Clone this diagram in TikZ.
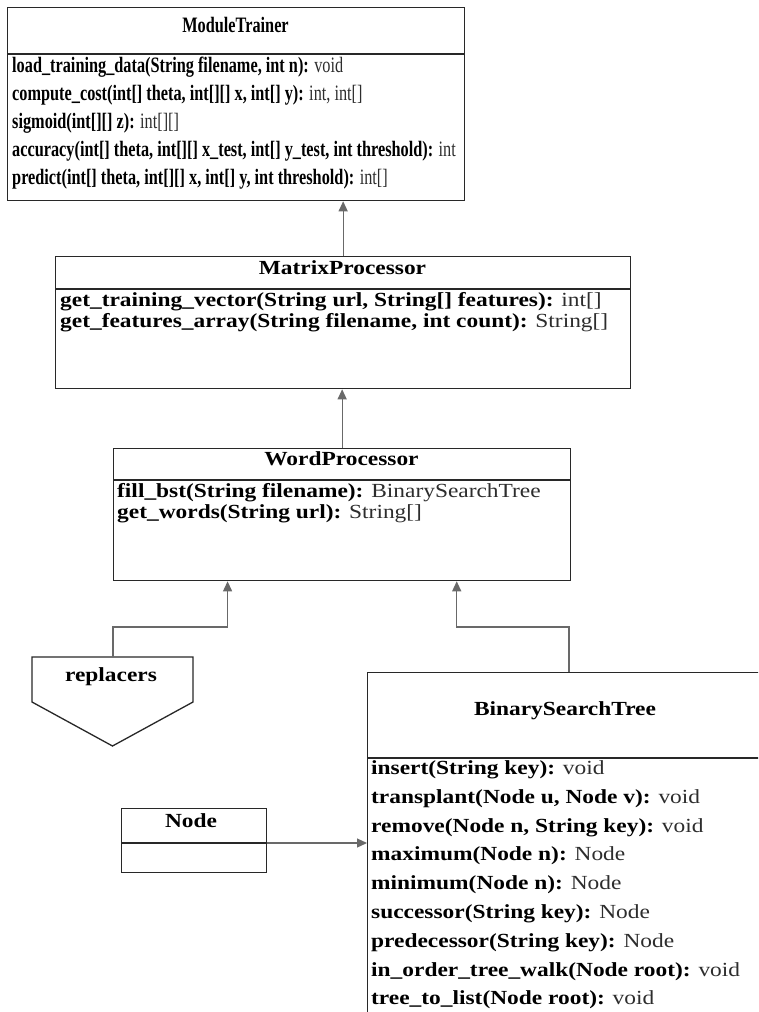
\documentclass[tikz,border=0pt]{standalone}
\usepackage{fontspec}
\setmainfont{Liberation Serif}
\newfontfamily\wideserif[FakeStretch=1.17]{Liberation Serif}
\newfontfamily\narrowserif[FakeStretch=0.74]{Liberation Serif}
\usetikzlibrary{arrows.meta,calc}

\definecolor{boxline}{RGB}{40,40,40}
\definecolor{connline}{RGB}{105,105,105}
\definecolor{rettext}{RGB}{45,45,45}

\begin{document}
\begin{tikzpicture}[x=1pt,y=-1pt,
  umlbox/.style={draw=boxline, line width=1.3pt, inner sep=0pt, anchor=north west, fill=white},
  sepline/.style={draw=boxline, line width=1.1pt},
  widefont/.style={font=\wideserif\fontsize{20}{22}\selectfont},
  narrowfont/.style={font=\narrowserif\fontsize{22}{24}\selectfont},
  rowtext/.style={anchor=west, inner sep=0pt, text height=0.7em, text depth=0.22em},
  titletext/.style={inner sep=0pt, text height=0.7em, text depth=0.22em},
  toprow/.style={rowtext, narrowfont},
  row/.style={rowtext, widefont},
  conn/.style={draw=connline, line width=1.2pt, -{Triangle[width=9pt,length=10pt,fill=connline]}}
]
\useasboundingbox (0,0) rectangle (758,1012);
\fill[white] (0,0) rectangle (758,1012);
\clip (0,0) rectangle (758,1012);

% ---- ModuleTrainer ----
\node[umlbox, minimum width=457pt, minimum height=193pt] (mt) at (7,7) {};
\draw[sepline] (mt.west |- 0,54) -- (mt.east |- 0,54);
\node[titletext, narrowfont] (mtT) at (235.5,30) {\textbf{ModuleTrainer}};
\node[toprow] (mt1) at (12,70)  {\textbf{load\_training\_data(String filename, int n):} \textcolor{rettext}{void}};
\node[toprow] (mt2) at (12,98)  {\textbf{compute\_cost(int[] theta, int[][] x, int[] y):} \textcolor{rettext}{int, int[]}};
\node[toprow] (mt3) at (12,126) {\textbf{sigmoid(int[][] z):} \textcolor{rettext}{int[][]}};
\node[toprow] (mt4) at (12,154) {\textbf{accuracy(int[] theta, int[][] x\_test, int[] y\_test, int threshold):} \textcolor{rettext}{int}};
\node[toprow] (mt5) at (12,182) {\textbf{predict(int[] theta, int[][] x, int[] y, int threshold):} \textcolor{rettext}{int[]}};

% ---- MatrixProcessor ----
\node[umlbox, minimum width=575pt, minimum height=132pt] (mp) at (55,256) {};
\draw[sepline] (mp.west |- 0,289) -- (mp.east |- 0,289);
\node[titletext, widefont] (mpT) at (342.5,272) {\textbf{MatrixProcessor}};
\node[row] (mp1) at (60,304) {\textbf{get\_training\_vector(String url, String[] features):} \textcolor{rettext}{int[]}};
\node[row] (mp2) at (60,325) {\textbf{get\_features\_array(String filename, int count):} \textcolor{rettext}{String[]}};

% ---- WordProcessor ----
\node[umlbox, minimum width=457pt, minimum height=132pt] (wp) at (113,448) {};
\draw[sepline] (wp.west |- 0,480) -- (wp.east |- 0,480);
\node[titletext, widefont] (wpT) at (341.5,463) {\textbf{WordProcessor}};
\node[row] (wp1) at (117,495) {\textbf{fill\_bst(String filename):} \textcolor{rettext}{BinarySearchTree}};
\node[row] (wp2) at (117,516) {\textbf{get\_words(String url):} \textcolor{rettext}{String[]}};

% ---- replacers ----
\draw[boxline, line width=1.3pt, fill=white]
  (32,657) -- (193,657) -- (193,702) -- (112.5,746) -- (32,702) -- cycle;
\node[titletext, widefont] (repl) at (111,679) {\textbf{replacers}};
\coordinate (replTop) at (113,657);

% ---- BinarySearchTree ----
\node[umlbox, minimum width=460pt, minimum height=420pt] (bst) at (367,672) {};
\draw[sepline] (bst.west |- 0,758) -- (bst.east |- 0,758);
\node[titletext, widefont] (bstT) at (565,713) {\textbf{BinarySearchTree}};
\node[row] (b1) at (371,772) {\textbf{insert(String key):} \textcolor{rettext}{void}};
\node[row] (b2) at (371,800.8) {\textbf{transplant(Node u, Node v):} \textcolor{rettext}{void}};
\node[row] (b3) at (371,829.6) {\textbf{remove(Node n, String key):} \textcolor{rettext}{void}};
\node[row] (b4) at (371,858.4) {\textbf{maximum(Node n):} \textcolor{rettext}{Node}};
\node[row] (b5) at (371,887.2) {\textbf{minimum(Node n):} \textcolor{rettext}{Node}};
\node[row] (b6) at (371,916) {\textbf{successor(String key):} \textcolor{rettext}{Node}};
\node[row] (b7) at (371,944.8) {\textbf{predecessor(String key):} \textcolor{rettext}{Node}};
\node[row] (b8) at (371,973.6) {\textbf{in\_order\_tree\_walk(Node root):} \textcolor{rettext}{void}};
\node[row] (b9) at (371,1002.4) {\textbf{tree\_to\_list(Node root):} \textcolor{rettext}{void}};
\coordinate (bstTop) at ($(bst.north west)+(202,0)$);

% ---- Node ----
\node[umlbox, minimum width=145pt, minimum height=64pt] (nd) at (121,808) {};
\draw[sepline] (nd.west |- 0,843) -- (nd.east |- 0,843);
\node[titletext, widefont] (ndT) at (191,825) {\textbf{Node}};
\coordinate (ndMid) at (nd.east |- 0,843);

% ---- connectors ----
\coordinate (wpL) at ($(wp.south west)!0.25!(wp.south east)$);
\coordinate (wpR) at ($(wp.south west)!0.75!(wp.south east)$);
\coordinate (bendL) at (replTop |- 0,627);
\coordinate (bendR) at (bstTop |- 0,627);

\draw[conn] (mp.north) -- (mp.north |- mt.south);
\draw[conn] (wp.north) -- (wp.north |- mp.south);
\draw[conn] (replTop) -- (bendL) -| (wpL);
\draw[conn] (bstTop) -- (bendR) -| (wpR);
\draw[conn] (ndMid) -- (ndMid -| bst.west);
\end{tikzpicture}
\end{document}
